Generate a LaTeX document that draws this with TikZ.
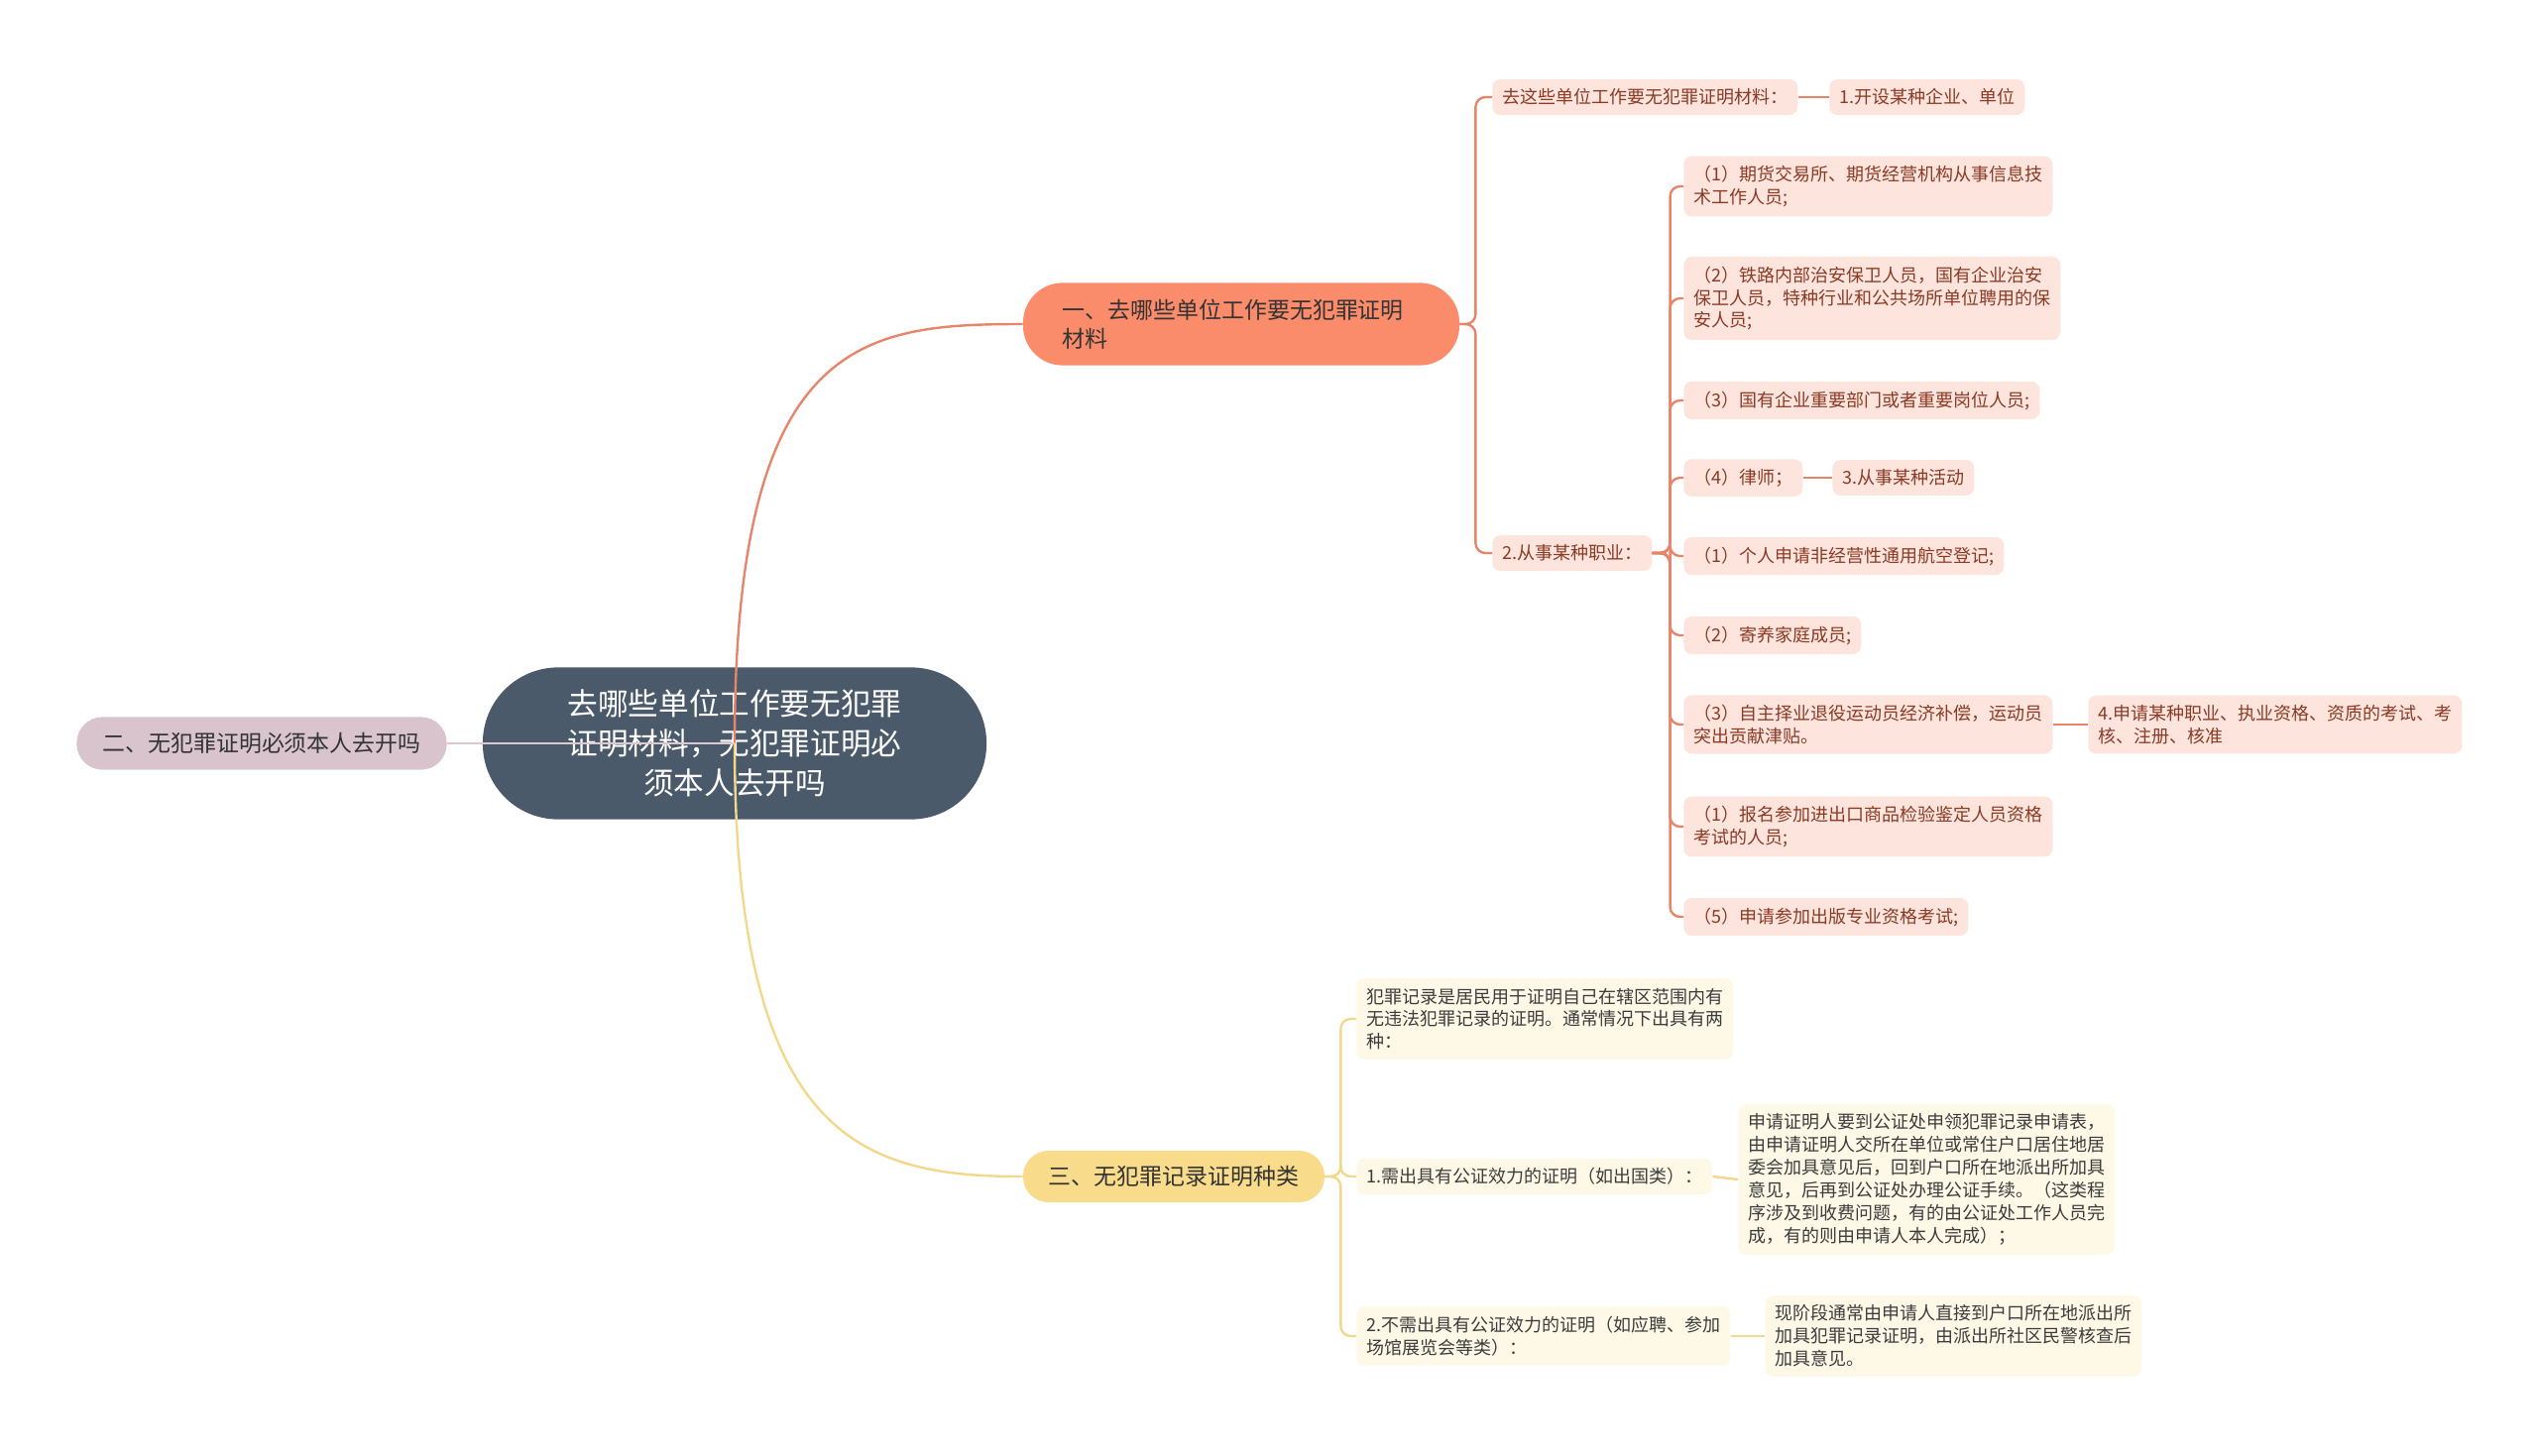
\documentclass[tikz,border=0pt]{standalone}
\usepackage{fontspec}
\setmainfont{Noto Sans CJK SC}

\definecolor{rootfill}{HTML}{4A5A6A}
\definecolor{secAfill}{HTML}{FA8B6B}
\definecolor{secBfill}{HTML}{D9C4CD}
\definecolor{secCfill}{HTML}{F8DC8C}
\definecolor{leafAfill}{HTML}{FDE5DE}
\definecolor{leafAtext}{HTML}{8B3A24}
\definecolor{leafCfill}{HTML}{FEF8E7}
\definecolor{leafCtext}{HTML}{3C3C3C}
\definecolor{linkAcol}{HTML}{E8846A}
\definecolor{linkBcol}{HTML}{DCC8D0}
\definecolor{linkCcol}{HTML}{F3D88C}

\tikzset{
  rootnode/.style={fill=rootfill, text=white, rounded corners=1.9cm,
    minimum width=12.7cm, minimum height=3.83cm, align=center,
    font=\fontsize{21.8}{28.3}\selectfont},
  secnode/.style={rounded corners=#1, text=black!80,
    font=\fontsize{16.3}{20.8}\selectfont},
  leafA/.style={fill=leafAfill, text=leafAtext, rounded corners=0.2cm,
    anchor=west, align=left, inner xsep=0.25cm, inner ysep=0.24cm,
    font=\fontsize{12.8}{16.3}\selectfont},
  leafC/.style={leafA, fill=leafCfill, text=leafCtext},
  linkA/.style={draw=linkAcol, line width=1.7pt, rounded corners=0.25cm},
  linkB/.style={draw=linkBcol, line width=1.7pt},
  linkC/.style={draw=linkCcol, line width=1.7pt, rounded corners=0.25cm}
}

\begin{document}
\begin{tikzpicture}[x=0.025cm, y=-0.025cm]
  \useasboundingbox (0,0) rectangle (2560,1468);

  % Root and main branches
  \node[rootnode] (root) at (741,750) {去哪些单位工作要无犯罪\\证明材料，无犯罪证明必\\须本人去开吗};
  \node[secnode=1.0cm, fill=secAfill, minimum height=2.08cm, text width=9cm,
        inner xsep=1cm, align=left] (sec1) at (1252,327) {一、去哪些单位工作要无犯罪证明\\材料};
  \node[secnode=0.65cm, fill=secBfill, minimum width=9.33cm, minimum height=1.33cm] (sec2) at (264,750) {二、无犯罪证明必须本人去开吗};
  \node[secnode=0.64cm, fill=secCfill, minimum width=7.6cm, minimum height=1.3cm] (sec3) at (1184,1187) {三、无犯罪记录证明种类};

  % Branch one
  \node[leafA] (s1a) at (1505,98) {去这些单位工作要无犯罪证明材料：};
  \node[leafA] (s1ax) at (1845,98) {1.开设某种企业、单位};
  \node[leafA] (s1b) at (1505,558) {2.从事某种职业：};
  \node[leafA] (s1b1) at (1698,188) {（1）期货交易所、期货经营机构从事信息技\\术工作人员;};
  \node[leafA] (s1b2) at (1698,301) {（2）铁路内部治安保卫人员，国有企业治安\\保卫人员，特种行业和公共场所单位聘用的保\\安人员;};
  \node[leafA] (s1b3) at (1698,404) {（3）国有企业重要部门或者重要岗位人员;};
  \node[leafA] (s1b4) at (1698,482) {（4）律师；};
  \node[leafA] (s1b4x) at (1848,482) {3.从事某种活动};
  \node[leafA] (s1b5) at (1698,561) {（1）个人申请非经营性通用航空登记;};
  \node[leafA] (s1b6) at (1698,641) {（2）寄养家庭成员;};
  \node[leafA] (s1b7) at (1698,731) {（3）自主择业退役运动员经济补偿，运动员\\突出贡献津贴。};
  \node[leafA] (s1b7x) at (2106,731) {4.申请某种职业、执业资格、资质的考试、考\\核、注册、核准};
  \node[leafA] (s1b8) at (1698,834) {（1）报名参加进出口商品检验鉴定人员资格\\考试的人员;};
  \node[leafA] (s1b9) at (1698,925) {（5）申请参加出版专业资格考试;};

  % Branch three
  \node[leafC] (s3a) at (1368,1028) {犯罪记录是居民用于证明自己在辖区范围内有\\无违法犯罪记录的证明。通常情况下出具有两\\种：};
  \node[leafC] (s3b) at (1368,1187) {1.需出具有公证效力的证明（如出国类）：};
  \node[leafC] (s3bx) at (1753,1190) {申请证明人要到公证处申领犯罪记录申请表，\\由申请证明人交所在单位或常住户口居住地居\\委会加具意见后，回到户口所在地派出所加具\\意见，后再到公证处办理公证手续。（这类程\\序涉及到收费问题，有的由公证处工作人员完\\成，有的则由申请人本人完成）；};
  \node[leafC] (s3c) at (1368,1348) {2.不需出具有公证效力的证明（如应聘、参加\\场馆展览会等类）：};
  \node[leafC] (s3cx) at (1780,1348) {现阶段通常由申请人直接到户口所在地派出所\\加具犯罪记录证明，由派出所社区民警核查后\\加具意见。};

  % Connectors from the root
  \draw[linkA] (root.center) .. controls (741,340) and (870,327) .. (sec1.west);
  \draw[linkB] (root.center) -- (sec2.east);
  \draw[linkC] (root.center) .. controls (741,1150) and (870,1187) .. (sec3.west);

  % Connectors of branch one
  \foreach \n in {s1a,s1b}
    \draw[linkA] (sec1.east) -- ++(16,0) |- (\n.west);
  \foreach \n in {1,...,9}
    \draw[linkA] (s1b.east) -- ++(18,0) |- (s1b\n.west);
  \draw[linkA] (s1a.east) -- (s1ax.west);
  \draw[linkA] (s1b4.east) -- (s1b4x.west);
  \draw[linkA] (s1b7.east) -- (s1b7x.west);

  % Connectors of branch three
  \foreach \n in {s3a,s3b,s3c}
    \draw[linkC] (sec3.east) -- ++(16,0) |- (\n.west);
  \draw[linkC] (s3b.east) -- (s3bx.west);
  \draw[linkC] (s3c.east) -- (s3cx.west);
\end{tikzpicture}
\end{document}
